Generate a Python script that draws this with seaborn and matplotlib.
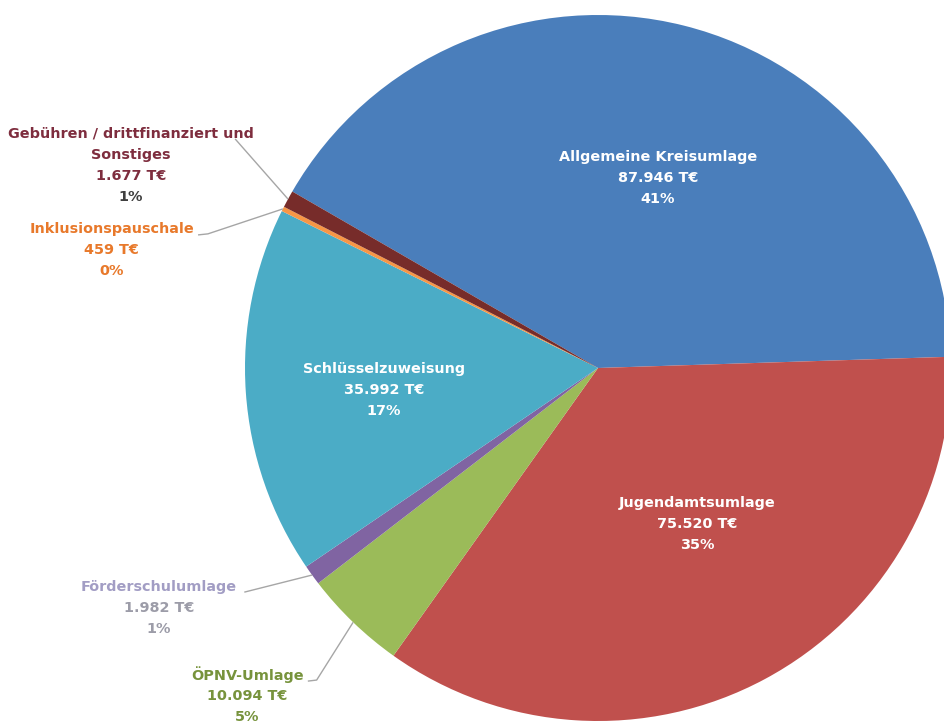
import numpy as np
import matplotlib
matplotlib.use("Agg")
import matplotlib.pyplot as plt
import seaborn as sns

# Ertragsstruktur (in T€), clockwise from the first slice
categories = [
    "Allgemeine Kreisumlage",
    "Jugendamtsumlage",
    "ÖPNV-Umlage",
    "Förderschulumlage",
    "Schlüsselzuweisung",
    "Inklusionspauschale",
    "Gebühren / drittfinanziert und\nSonstiges",
]
values = [87946, 75520, 10094, 1982, 35992, 459, 1677]
slice_colors = ["#4A7EBB", "#C0504D", "#9BBB59", "#8064A2", "#4BACC6", "#F79646", "#772C2A"]

sns.set_theme(style="white")
plt.rcParams["font.family"] = ["DejaVu Sans"]

W, H, DPI = 945, 724, 100
fig = plt.figure(figsize=(W / DPI, H / DPI), dpi=DPI)
ax = fig.add_axes([0, 0, 1, 1])

# pie of radius 1 around the origin; the view cuts the right edge
cx, cy, R = 598, 368, 353

wedges, _ = ax.pie(values, colors=slice_colors, startangle=150, counterclock=False,
                   radius=1.0, center=(0, 0), frame=True,
                   wedgeprops=dict(linewidth=0))
ax.set_xlim(-cx / R, (W - cx) / R)
ax.set_ylim(-(H - cy) / R, cy / R)
ax.set_aspect("auto")
ax.axis("off")

total = sum(values)
pcts = [round(100 * v / total) for v in values]


def fmt_value(v):
    return f"{v:,}".replace(",", ".") + " T€"


LINE = 21.0 / R  # line spacing in data units


def block(x, y, lines, colors, size=10.4):
    n = len(lines)
    for i, (t, c) in enumerate(zip(lines, colors)):
        ax.text(x, y + (n - 1) / 2 * LINE - i * LINE, t, color=c, fontsize=size,
                fontweight="bold", ha="center", va="center")


# label centres (data units) and text colours
layout = {
    "Allgemeine Kreisumlage": ((0.170, 0.538), ["white"] * 3),
    "Jugendamtsumlage": ((0.280, -0.441), ["white"] * 3),
    "Schlüsselzuweisung": ((-0.606, -0.062), ["white"] * 3),
    "Gebühren / drittfinanziert und\nSonstiges": ((-1.323, 0.575),
                                                  ["#7E2D3E", "#7E2D3E", "#7E2D3E", "#3F3F3F"]),
    "Inklusionspauschale": ((-1.377, 0.334), ["#E8792B"] * 3),
    "Förderschulumlage": ((-1.244, -0.680), ["#A29DC4", "#9C9CA8", "#9C9CA8"]),
    "ÖPNV-Umlage": ((-0.994, -0.928), ["#77933C"] * 3),
}

for cat, v, p in zip(categories, values, pcts):
    (x, y), cols = layout[cat]
    lines = cat.split("\n") + [fmt_value(v), f"{p}%"]
    block(x, y, lines, cols)

# leader lines: from the label to the rim of its slice
leaders = {
    "Gebühren / drittfinanziert und\nSonstiges": [(-1.028, 0.649)],
    "Inklusionspauschale": [(-1.133, 0.377), (-1.105, 0.380)],
    "Förderschulumlage": [(-1.002, -0.635)],
    "ÖPNV-Umlage": [(-0.822, -0.887), (-0.797, -0.884)],
}
for w, cat in zip(wedges, categories):
    if cat not in leaders:
        continue
    mid = np.deg2rad((w.theta1 + w.theta2) / 2)
    pts = leaders[cat] + [(np.cos(mid) * 1.0, np.sin(mid) * 1.0)]
    xs, ys = zip(*pts)
    ax.plot(xs, ys, color="#A6A6A6", lw=1.0, solid_capstyle="butt", zorder=3)

fig.savefig("out.png", dpi=DPI, facecolor="white")
